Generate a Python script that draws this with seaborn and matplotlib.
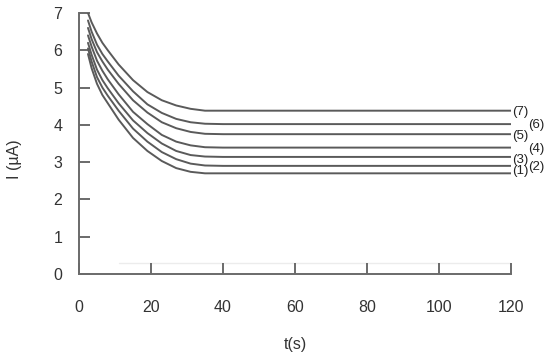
import matplotlib
matplotlib.use("Agg")
import matplotlib.pyplot as plt
import seaborn as sns
import pandas as pd

# time points (s)
t = [2.5, 3.5, 5, 6.5, 8, 11, 15, 19, 23, 27, 31, 35, 40, 120]

# current (uA) for each curve
curve_1 = [5.90, 5.52, 5.10, 4.80, 4.58, 4.14, 3.65, 3.30, 3.03, 2.84, 2.74, 2.70, 2.70, 2.70]
curve_2 = [6.05, 5.70, 5.28, 5.00, 4.78, 4.38, 3.90, 3.55, 3.27, 3.08, 2.96, 2.91, 2.90, 2.90]
curve_3 = [6.20, 5.88, 5.48, 5.20, 4.98, 4.58, 4.12, 3.78, 3.50, 3.30, 3.19, 3.15, 3.14, 3.14]
curve_4 = [6.40, 6.10, 5.72, 5.45, 5.22, 4.82, 4.35, 4.02, 3.73, 3.55, 3.45, 3.40, 3.39, 3.39]
curve_5 = [6.60, 6.30, 5.95, 5.70, 5.48, 5.10, 4.66, 4.33, 4.07, 3.91, 3.81, 3.76, 3.75, 3.75]
curve_6 = [6.80, 6.50, 6.15, 5.90, 5.70, 5.32, 4.90, 4.55, 4.32, 4.16, 4.07, 4.03, 4.02, 4.02]
curve_7 = [7.00, 6.75, 6.45, 6.20, 6.00, 5.62, 5.20, 4.88, 4.66, 4.52, 4.43, 4.38, 4.38, 4.38]

labels = ["(1)", "(2)", "(3)", "(4)", "(5)", "(6)", "(7)"]
curves = [curve_1, curve_2, curve_3, curve_4, curve_5, curve_6, curve_7]

x_ticks = [0, 20, 40, 60, 80, 100, 120]
y_ticks = [0, 1, 2, 3, 4, 5, 6, 7]

rows = []
for lab, vals in zip(labels, curves):
    for ti, v in zip(t, vals):
        rows.append({"t": ti, "I": v, "curve": lab})
df = pd.DataFrame(rows)

sns.set_style("white")
plt.rcParams["font.family"] = ["Liberation Sans", "DejaVu Sans"]

fig = plt.figure(figsize=(5.5, 3.53), dpi=100)
ax = fig.add_axes([79 / 550, (353 - 274) / 353, (511 - 79) / 550, (274 - 13) / 353])

line_color = "#5a5a5a"
sns.lineplot(data=df, x="t", y="I", hue="curve", palette=[line_color] * 7,
             legend=False, ax=ax, linewidth=1.4)

# faint light line near bottom
ax.plot([11, 120], [0.3, 0.3], color="#ececec", linewidth=1.0, zorder=0)

ax.set_xlim(0, 120)
ax.set_ylim(0, 7)
ax.set_xticks(x_ticks)
ax.set_yticks(y_ticks)
ax.set_xticklabels([str(v) for v in x_ticks])
ax.set_yticklabels([str(v) for v in y_ticks])

for s in ["top", "right"]:
    ax.spines[s].set_visible(False)
for s in ["left", "bottom"]:
    ax.spines[s].set_color("#6a6a6a")
    ax.spines[s].set_linewidth(1.4)

ax.tick_params(axis="both", direction="in", length=8, width=1.4, color="#6a6a6a",
               labelsize=11.5, labelcolor="#333333")
ax.tick_params(axis="y", pad=12)
ax.tick_params(axis="x", pad=18.5)
ax.tick_params(axis="x", which="both", bottom=True)
ax.tick_params(axis="y", which="both", left=True)

ax.set_xlabel("t(s)", fontsize=11.5, color="#333333")
ax.set_ylabel("I (µA)", fontsize=11.5, color="#333333")
ax.xaxis.set_label_coords(0.5, -0.241)
ax.yaxis.set_label_coords(-0.132, 0.44)

# curve labels on the right
offsets = {"(1)": (0.8, 1.5), "(2)": (12.5, -0.5), "(3)": (0.8, -2.3), "(4)": (12.5, -1.2),
           "(5)": (0.8, -1.2), "(6)": (12.5, -0.7), "(7)": (0.8, -1.0)}
for lab, vals in zip(labels, curves):
    dx, dy = offsets[lab]
    ax.annotate(lab, xy=(t[-1], vals[-1]), xytext=(dx, dy), textcoords="offset points",
                ha="left", va="center", fontsize=9.5, color="#222222",
                annotation_clip=False)

fig.savefig("out.png", dpi=100)
